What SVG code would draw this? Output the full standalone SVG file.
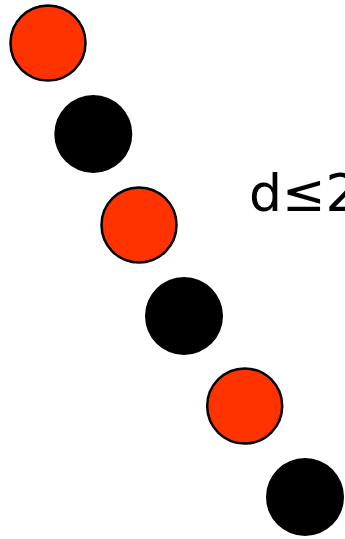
<svg xmlns="http://www.w3.org/2000/svg" width="345" height="539" viewBox="0 0 345 539">
<style>
.red{fill:#FF3300;stroke:#000;stroke-width:2.5}
.blk{fill:#000}
.lbl{font-family:"DejaVu Sans",sans-serif;font-size:52px;fill:#000}
</style>
<rect width="345" height="539" fill="#fff"/>
<g id="n1"><circle class="red" cx="48" cy="43" r="37.5"/></g>
<g id="n2"><circle class="blk" cx="93.3" cy="134" r="39"/></g>
<g id="n3"><circle class="red" cx="139" cy="225" r="37.5"/></g>
<g id="n4"><circle class="blk" cx="184" cy="316" r="39"/></g>
<g id="n5"><circle class="red" cx="244.7" cy="406" r="37.5"/></g>
<g id="n6"><circle class="blk" cx="305" cy="497" r="39"/></g>
<g id="connectors"></g>
<text class="lbl" x="249" y="211">d≤2</text>
</svg>
